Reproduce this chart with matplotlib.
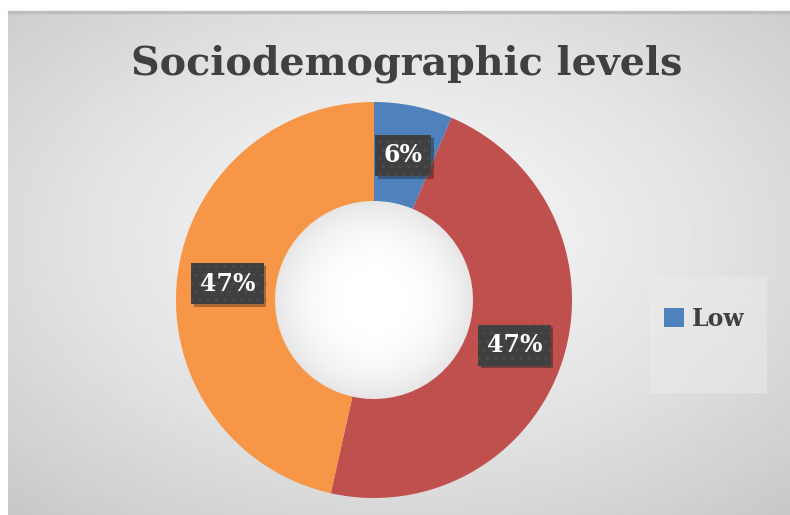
import numpy as np
import matplotlib.pyplot as plt
import matplotlib.patheffects as pe
from matplotlib.patches import Rectangle, Circle

categories = ['Low', 'Medium', 'High']
shares = [6.4, 47.1, 46.5]
colors = ['#4F81BD', '#C0504D', '#F79646']
title = 'Sociodemographic levels'

W, H = 790, 515
fig = plt.figure(figsize=(W / 100, H / 100), dpi=100)
fig.patch.set_facecolor('white')

# gradient background of the chart area
bg = fig.add_axes([8 / W, 0, (W - 8) / W, (H - 13) / H])
yy, xx = np.mgrid[0:1:300j, 0:1:400j]
d = np.sqrt(((xx - 0.5) / 0.75) ** 2 + ((yy - 0.45) / 0.75) ** 2)
shade = 0.965 - 0.185 * np.clip(d, 0, 1) ** 1.4
bg.imshow(shade, cmap='gray', vmin=0, vmax=1, aspect='auto', extent=[0, 1, 0, 1])
bg.axis('off')
fig.add_artist(Rectangle((8 / W, (H - 13) / H), (W - 8) / W, 1.5 / H,
                         transform=fig.transFigure, color='#bdbdbd'))

# legend panel
fig.add_artist(Rectangle((650 / W, (H - 392) / H), 116 / W, 115 / H,
                         transform=fig.transFigure, color='#ededed', alpha=0.45))

cx, cy, r = 374, 300, 198
ax = fig.add_axes([(cx - r) / W, (H - cy - r) / H, 2 * r / W, 2 * r / H])
ax.set_facecolor('none')


def pct(v):
    return '%d%%' % int(v + 0.5)


wedges, texts, autotexts = ax.pie(
    shares, colors=colors, startangle=90, counterclock=False,
    wedgeprops=dict(width=0.5, edgecolor='none'),
    autopct=pct, pctdistance=0.745,
    textprops=dict(color='white', fontsize=17, fontweight='bold', family='DejaVu Serif'))

# hole with its own soft radial shading
gy, gx = np.mgrid[-1:1:200j, -1:1:200j]
gd = np.sqrt(gx ** 2 + gy ** 2)
hole = 1.0 - 0.1 * np.clip(gd, 0, 1) ** 3
im = ax.imshow(hole, cmap='gray', vmin=0, vmax=1, extent=[-0.5, 0.5, -0.5, 0.5], zorder=0.5)
im.set_clip_path(Circle((0, 0), 0.5, transform=ax.transData))
ax.set_xlim(-1, 1)
ax.set_ylim(-1, 1)
ax.set_aspect('auto')
ax.axis('off')

for t in autotexts:
    t.set_bbox(dict(boxstyle='square,pad=0.36', fc='#404040', ec='#4c4c4c', lw=0, hatch='..'))
    t.get_bbox_patch().set_path_effects([
        pe.SimplePatchShadow(offset=(2, -2), shadow_rgbFace='black', alpha=0.3), pe.Normal()])

fig.text(407 / W, 1 - 64 / H, title, ha='center', va='center', fontsize=28.5,
         fontweight='bold', family='DejaVu Serif', color='#404040')

fig.legend([wedges[0]], [categories[0]], loc='center left',
           bbox_to_anchor=(643 / W, 1 - 319 / H), frameon=False,
           prop=dict(family='DejaVu Serif', weight='bold', size=17),
           handlelength=0.85, handleheight=0.85, handletextpad=0.3, labelcolor='#404040')

fig.savefig('out.png', dpi=100)
